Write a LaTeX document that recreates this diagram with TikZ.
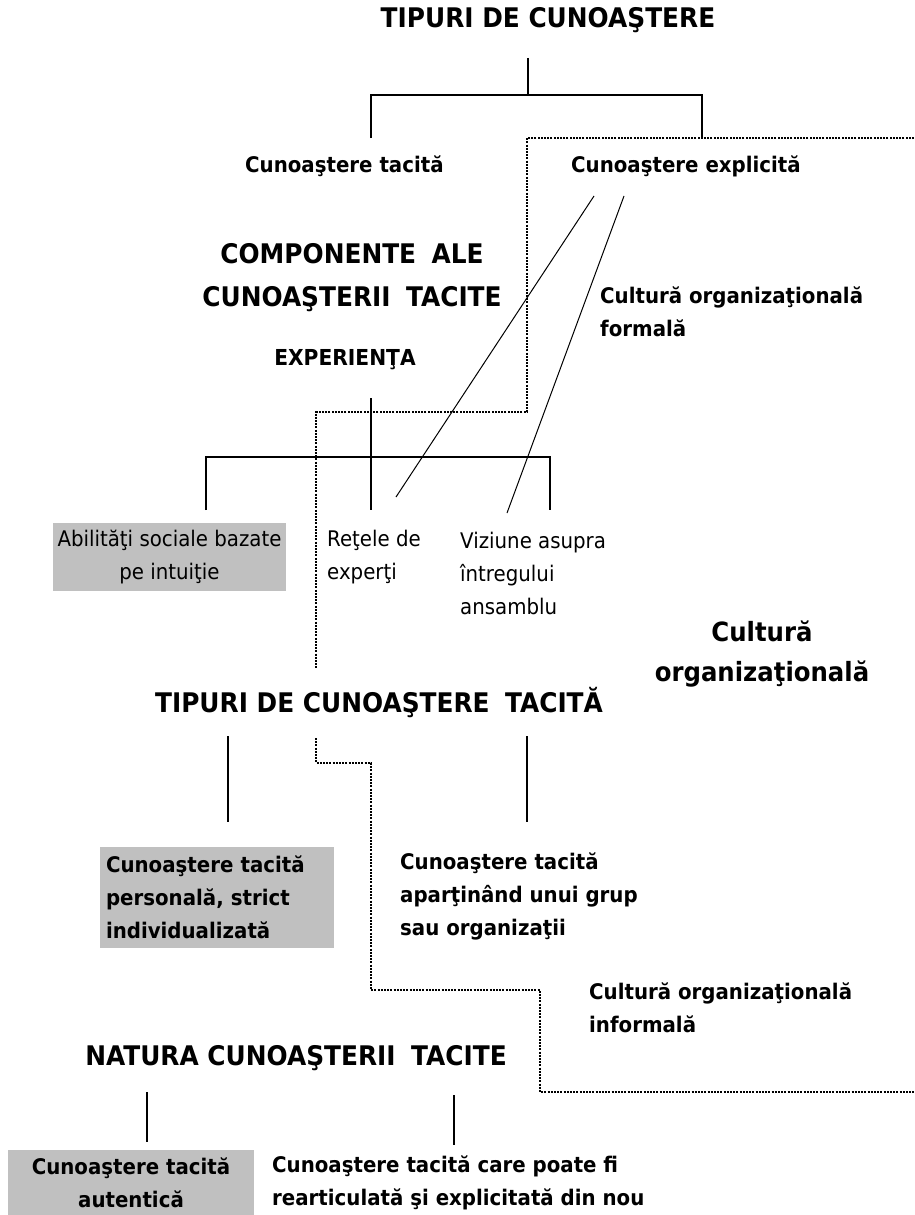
\documentclass[tikz,border=0pt]{standalone}
\usepackage{fontspec}
\setmainfont{DejaVu Sans}[FakeStretch=0.92]
\usetikzlibrary{positioning}
\definecolor{boxgrey}{HTML}{C0C0C0}
\newcommand{\wgap}{\hspace{0.25em}}

\begin{document}
\begin{tikzpicture}[
    x=1pt, y=-1pt,
    head/.style={font=\bfseries\fontsize{27}{43}\selectfont, inner sep=0pt, align=center}, % section titles
    sub/.style={font=\bfseries\fontsize{22}{30}\selectfont, inner sep=0pt},
    txt/.style={font=\bfseries\fontsize{21.5}{33}\selectfont, inner sep=0pt, align=left, anchor=west},
    thin/.style={font=\fontsize{21.5}{33}\selectfont, inner sep=0pt, align=left, anchor=west},
    greybox/.style={fill=boxgrey, anchor=center},
    link/.style={line width=1.3pt}, % tree branches
    border/.style={line width=2.4pt, dash pattern=on 2pt off 1.2pt} % culture boundary
    ]
    \useasboundingbox (0,0) rectangle (914,1215);

    % Types of knowledge
    \node[head] (types) at (548,20) {TIPURI DE CUNOAŞTERE};
    \node[txt] (tacit) at (245,166) {Cunoaştere tacită};
    \node[txt] (explicit) at (571,166) {Cunoaştere explicită};

    \coordinate (typesStem) at (528,58);
    \coordinate (typesBar) at (528,95);
    \coordinate (tacitTop) at (371,138);
    \coordinate (explicitTop) at (702,138);
    \draw[link] (typesStem) -- (typesBar);
    \draw[link] (tacitTop) |- (typesBar) -| (explicitTop);

    % Components of tacit knowledge
    \node[head] (comp) at (352,278) {COMPONENTE\wgap{} ALE\\CUNOAŞTERII\wgap{} TACITE};
    \node[sub] (exper) at (345,360) {EXPERIENŢA};
    \node[txt] (formal) at (600,312) {Cultură organizaţională\\formală};

    \node[thin, greybox, minimum width=233pt, minimum height=68pt, align=center] (social) at (169.5,557) {Abilităţi sociale bazate\\pe intuiţie};
    \node[thin] (experts) at (327,557) {Reţele de\\experţi};
    \node[thin] (vision) at (460,573) {Viziune asupra\\întregului\\ansamblu};

    \coordinate (experStem) at (371,398);
    \coordinate (experBar) at (371,457);
    \coordinate (socialTop) at (206,510);
    \coordinate (expertsTop) at (371,510);
    \coordinate (visionTop) at (550,510);
    \draw[link] (experStem) -- (expertsTop);
    \draw[link] (socialTop) |- (experBar) -| (visionTop);

    % Explicit knowledge reaching the components
    \coordinate (explicitA) at (594,196);
    \coordinate (explicitB) at (624,196);
    \coordinate (expertsEnd) at (396,497);
    \coordinate (visionEnd) at (507,513);
    \draw[line width=1pt] (explicitA) -- (expertsEnd);
    \draw[line width=1pt] (explicitB) -- (visionEnd);

    \node[head, font=\bfseries\fontsize{26.5}{40}\selectfont] (culture) at (762,654) {Cultură\\organizaţională};

    % Types of tacit knowledge
    \node[head] (tacitTypes) at (379,703) {TIPURI DE CUNOAŞTERE\wgap{} TACITĂ};
    \node[txt, greybox, minimum width=234pt, minimum height=101pt, text width=222pt, inner xsep=6pt] (personal) at (217,897.5) {Cunoaştere tacită\\personală, strict\\individualizată};
    \node[txt] (group) at (400,896) {Cunoaştere tacită\\aparţinând unui grup\\sau organizaţii};
    \node[txt] (informal) at (589,1008) {Cultură organizaţională\\informală};

    \coordinate (personalStem) at (228,736);
    \coordinate (personalTop) at (228,822);
    \coordinate (groupStem) at (527,736);
    \coordinate (groupTop) at (527,822);
    \draw[link] (personalStem) -- (personalTop);
    \draw[link] (groupStem) -- (groupTop);

    % Nature of tacit knowledge
    \node[head] (nature) at (296,1058) {NATURA CUNOAŞTERII\wgap{} TACITE};
    \node[txt, greybox, minimum width=246pt, minimum height=66pt, align=center] (authentic) at (131,1183) {Cunoaştere tacită\\autentică};
    \node[txt] (rearticulated) at (272,1183) {Cunoaştere tacită care poate fi\\rearticulată şi explicitată din nou};

    \coordinate (authenticStem) at (147,1092);
    \coordinate (authenticTop) at (147,1142);
    \coordinate (rearticulatedStem) at (454,1095);
    \coordinate (rearticulatedTop) at (454,1145);
    \draw[link] (authenticStem) -- (authenticTop);
    \draw[link] (rearticulatedStem) -- (rearticulatedTop);

    % Dotted boundary of organizational culture
    \coordinate (edgeTop) at (914,138);
    \coordinate (cornerA) at (527,412);
    \coordinate (breakTop) at (316,668);
    \coordinate (breakBottom) at (316,738);
    \coordinate (cornerB) at (371,763);
    \coordinate (cornerC) at (540,990);
    \coordinate (edgeBottom) at (914,1092);
    \draw[border] (edgeTop) -| (cornerA) -| (breakTop);
    \draw[border] (breakBottom) |- (cornerB) |- (cornerC) |- (edgeBottom);

\end{tikzpicture}
\end{document}
